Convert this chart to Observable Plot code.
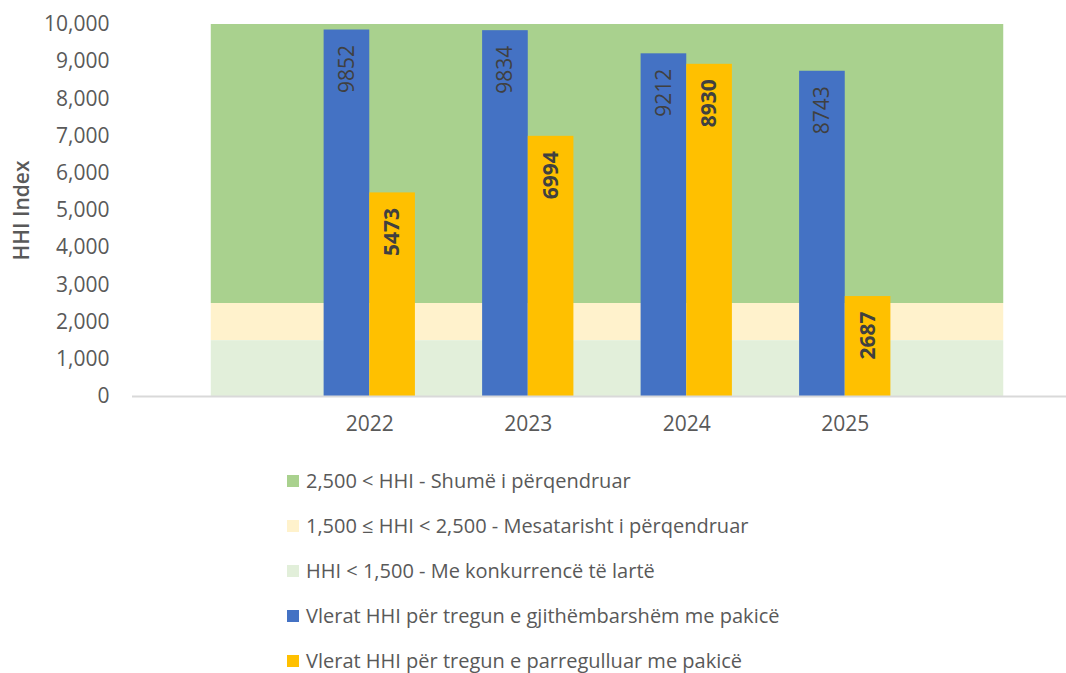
<!DOCTYPE html>
<html>
<head>
<meta charset="utf-8">
<script src="https://cdn.jsdelivr.net/npm/d3@7"></script>
<script src="https://cdn.jsdelivr.net/npm/@observablehq/plot@0.6"></script>
<style>
  html, body { margin: 0; padding: 0; background: #fff; }
  body { width: 1066px; height: 673px; overflow: hidden; font-family: "Open Sans", sans-serif; }
  #legend { padding-left: 287px; padding-top: 8px; }
  .item { display: flex; align-items: center; height: 45px; font-size: 20px; color: #595959; white-space: nowrap; }
  .sw { width: 12px; height: 12px; margin-right: 7px; flex: none; }
</style>
</head>
<body>
<div id="chart"></div>
<div id="legend"></div>
<script>
const years = ["2022", "2023", "2024", "2025"];
const totalMarket = [9852, 9834, 9212, 8743];      // Vlerat HHI për tregun e gjithëmbarshëm me pakicë
const deregulated = [5473, 6994, 8930, 2687];      // Vlerat HHI për tregun e parregulluar me pakicë
const bandLabels = [
  "2,500 < HHI - Shumë i përqendruar",
  "1,500 ≤ HHI < 2,500 - Mesatarisht i përqendruar",
  "HHI < 1,500 - Me konkurrencë të lartë"
];
const bandLow = [2500, 1500, 0];
const bandHigh = [10000, 2500, 1500];
const seriesLabels = [
  "Vlerat HHI për tregun e gjithëmbarshëm me pakicë",
  "Vlerat HHI për tregun e parregulluar me pakicë"
];
const yTicks = [0, 1000, 2000, 3000, 4000, 5000, 6000, 7000, 8000, 9000, 10000];

const bandColors = ["#a9d18e", "#fff2cc", "#e2efda"];
const seriesColors = ["#4472c4", "#ffc000"];
const textColor = "#595959";
const font = "Open Sans, sans-serif";

const bands = bandLabels.map((label, k) => ({label, lo: bandLow[k], hi: bandHigh[k], color: bandColors[k]}));
const bw = 0.288;
const bars = [];
years.forEach((yr, i) => {
  bars.push({i, value: totalMarket[i], series: 0, x1: i - bw, x2: i});
  bars.push({i, value: deregulated[i], series: 1, x1: i, x2: i + bw});
});
const labelOpts = (series, weight) => Plot.text(bars.filter(d => d.series === series), {
  x: d => (d.x1 + d.x2) / 2, y: "value", text: d => String(d.value),
  rotate: -90, textAnchor: "end", dy: 15, fill: "#404040",
  fontWeight: weight, fontSize: 21
});

const plot = Plot.plot({
  width: 1066,
  height: 450,
  marginLeft: 132,
  marginRight: 0,
  marginTop: 24,
  marginBottom: 54,
  style: {fontFamily: font, fontSize: "21px", color: textColor, background: "transparent"},
  x: {type: "linear", domain: [-1.497, 4.396], axis: null},
  y: {domain: [0, 10000], axis: null},
  marks: [
    Plot.rect(bands, {x1: () => -1, x2: () => years.length, y1: "lo", y2: "hi", fill: d => d.color}),
    Plot.rect(bars, {x1: "x1", x2: "x2", y1: 0, y2: "value", fill: d => seriesColors[d.series]}),
    Plot.ruleY([0], {stroke: "#d9d9d9", strokeWidth: 2}),
    labelOpts(0, "normal"),
    labelOpts(1, "bold"),
    Plot.axisY(yTicks, {tickSize: 0, tickPadding: 23, tickFormat: d3.format(","), fontSize: 21, color: textColor}),
    Plot.axisX(years.map((_, i) => i), {tickSize: 0, tickPadding: 20, tickFormat: i => years[i], fontSize: 21, color: textColor}),
    Plot.text(["HHI Index"], {frameAnchor: "left", textAnchor: "middle", dx: -110, rotate: -90, fontSize: 21, fontWeight: 600, fill: textColor, text: d => d})
  ]
});
document.getElementById("chart").appendChild(plot);

const legendItems = bands.map(b => ({label: b.label, color: b.color}))
  .concat(seriesLabels.map((label, k) => ({label, color: seriesColors[k]})));
const legend = document.getElementById("legend");
for (const it of legendItems) {
  const row = document.createElement("div");
  row.className = "item";
  const sw = document.createElement("span");
  sw.className = "sw";
  sw.style.background = it.color;
  const t = document.createElement("span");
  t.textContent = it.label;
  row.appendChild(sw);
  row.appendChild(t);
  legend.appendChild(row);
}
</script>
</body>
</html>
